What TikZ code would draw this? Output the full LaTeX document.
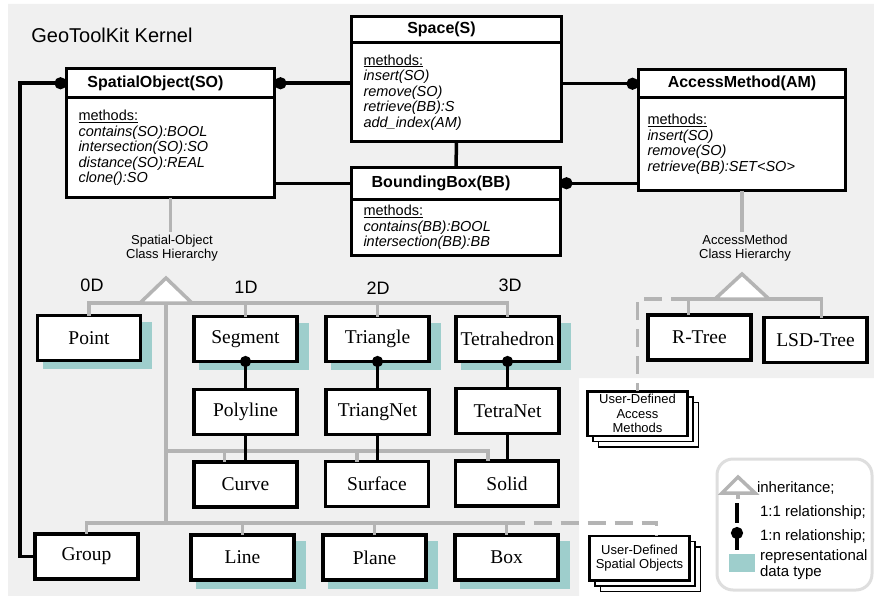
\documentclass[tikz,border=0pt]{standalone}
\usepackage{fontspec}
\setmainfont{Liberation Serif}
\newfontfamily\arialfont{Liberation Sans}
\usetikzlibrary{arrows.meta,shadows}

\definecolor{kernelbg}{RGB}{240,240,240}
\definecolor{inhgray}{RGB}{180,180,180}
\definecolor{reprteal}{RGB}{158,206,204}
\definecolor{legendgray}{RGB}{222,222,222}

\newcommand{\methodshead}{{\upshape\underline{methods:}}}

\tikzset{
  every node/.style={outer sep=0pt},
  cls/.style={draw, line width=3pt, fill=white, font=\arialfont\bfseries\fontsize{16}{18}\selectfont},
  leftish/.style={execute at begin node=\hspace*{-30pt}},
  clsbody/.style={draw, line width=3pt, fill=white, anchor=north, inner xsep=12pt, align=left,
    font=\arialfont\itshape\fontsize{14.5}{15.5}\selectfont},
  dtype/.style={draw, line width=3.5pt, fill=white, minimum width=103pt, minimum height=45pt,
    font=\fontsize{19.5}{21}\selectfont},
  repr/.style={dtype, general shadow={fill=reprteal, shadow xshift=8pt, shadow yshift=-7pt, shadow scale=1.06}},
  udbox/.style={draw, line width=2.5pt, fill=white, minimum width=100pt, minimum height=44.5pt,
    copy shadow={shadow xshift=11pt, shadow yshift=-11pt, line width=1.5pt},
    copy shadow={shadow xshift=5.5pt, shadow yshift=-5.5pt, line width=1.5pt},
    align=center, inner sep=1pt, font=\arialfont\fontsize{13}{14.5}\selectfont},
  inh/.style={draw=inhgray, line width=3.5pt},
  hasone/.style={line width=3.5pt},
  hasmany/.style={line width=3.5pt, {Circle[length=12pt]}-},
  partof/.style={line width=3.5pt, {Circle[length=11pt]}-, shorten <=-5.5pt},
  hier/.style={align=center, font=\arialfont\fontsize{13}{14}\selectfont},
  dim/.style={font=\arialfont\fontsize{18}{20}\selectfont},
  legtext/.style={anchor=west, align=left, inner xsep=2pt, font=\arialfont\fontsize{15}{16}\selectfont}
}

\begin{document}
\begin{tikzpicture}[x=1pt, y=-1pt]
\useasboundingbox (0,0) rectangle (874,596);

% kernel area
\fill[kernelbg] (8,4) -- (874,4) -- (874,378) -- (579,378) -- (579,596) -- (8,596) -- cycle;
\node[anchor=base west, font=\arialfont\fontsize{20}{24}\selectfont] (kernel) at (28,43) {GeoToolKit Kernel};

% classes
\node[cls, leftish, minimum width=208pt, minimum height=29.5pt] (SO) at (170.5,83.25) {SpatialObject(SO)};
\node[clsbody, text width=184pt, minimum height=99.5pt] (SObody) at (SO.south)
  {\methodshead\\contains(SO):BOOL\\intersection(SO):SO\\distance(SO):REAL\\clone():SO};

\node[cls, leftish, minimum width=210pt, minimum height=26.5pt] (Space) at (456.5,29.75) {Space(S)};
\node[clsbody, text width=186pt, minimum height=98.5pt] (Spacebody) at (Space.south)
  {\methodshead\\insert(SO)\\remove(SO)\\retrieve(BB):S\\add\_index(AM)};

\node[cls, leftish, minimum width=209pt, minimum height=31.5pt] (BB) at (456,183.25) {BoundingBox(BB)};
\node[clsbody, text width=185pt, minimum height=56.5pt] (BBbody) at (BB.south)
  {\methodshead\\contains(BB):BOOL\\intersection(BB):BB};

\node[cls, minimum width=207pt, minimum height=28.5pt] (AM) at (742,83.75) {AccessMethod(AM)};
\node[clsbody, inner xsep=9pt, text width=189pt, minimum height=92.5pt] (AMbody) at (AM.south)
  {\methodshead\\insert(SO)\\remove(SO)\\retrieve(BB):SET<SO>\\[4pt]};

% class relations
\draw[hasmany] (SO.east) -- (SO.east -| Spacebody.west);
\draw[hasmany] (AM.west) -- (AM.west -| Spacebody.east);
\draw[hasone] (Spacebody.south) -- (BB.north);
\draw[hasone] (BB.west -| SObody.east) -- (BB.west);
\draw[hasmany] (BB.east) -- (BB.east -| AMbody.west);

% spatial object types
\node[repr] (Point) at (89,338) {Point};
\node[repr] (Segment) at (245.5,339) {Segment};
\node[repr] (Triangle) at (377.5,339) {Triangle};
\node[repr] (Tetra) at (507.5,339) {Tetrahedron};
\node[dtype] (Polyline) at (245.5,412) {Polyline};
\node[dtype] (TriangNet) at (377.5,412) {TriangNet};
\node[dtype] (TetraNet) at (507.5,411) {TetraNet};
\node[dtype] (Curve) at (245.5,484.5) {Curve};
\node[dtype] (Surface) at (377,484) {Surface};
\node[dtype] (Solid) at (507,483.5) {Solid};
\node[dtype] (Group) at (86.5,556.5) {Group};
\node[repr] (Line) at (242.5,557.5) {Line};
\node[repr] (Plane) at (374.5,557.5) {Plane};
\node[repr] (Box) at (506.5,557.5) {Box};
\node[udbox] (UDSO) at (639.5,558) {User-Defined\\Spatial Objects};

\node[dim] (d0) at (92,285) {0D};
\node[dim] (d1) at (246,287) {1D};
\node[dim] (d2) at (378,288) {2D};
\node[dim] (d3) at (510,285) {3D};

% spatial object hierarchy
\node[hier] (sohier) at (172,248) {Spatial-Object\\Class Hierarchy};
\draw[inh] (SObody.south) -- (SObody.south |- sohier.north);
\coordinate (soinh) at (166,303);
\coordinate (bar2) at ([yshift=11]Curve.north);
\coordinate (bar3) at ([yshift=11]Group.north);
\coordinate (cvdrop) at ([xshift=-21]Curve.north);
\coordinate (sfdrop) at ([xshift=-20]Surface.north);
\coordinate (sldrop) at ([xshift=-19]Solid.north);
\draw[inh] (soinh) -- (soinh |- bar3);
\draw[inh] (Point.north) |- (soinh) -| (Tetra.north);
\draw[inh] (Segment.north) -- (Segment.north |- soinh);
\draw[inh] (Triangle.north) -- (Triangle.north |- soinh);
\draw[inh, fill=white] ([xshift=-26]soinh) -- ([yshift=25]soinh) -- ([xshift=26]soinh) -- cycle;
\draw[inh] (soinh |- bar2) -| (sldrop);
\draw[inh] (cvdrop |- bar2) -- (cvdrop);
\draw[inh] (sfdrop |- bar2) -- (sfdrop);
\draw[inh] (Group.north) |- (bar3) -| (Box.north);
\draw[inh] (Line.north) -- (Line.north |- bar3);
\draw[inh] (Plane.north) -- (Plane.north |- bar3);
\draw[inh, dash pattern=on 18pt off 9pt] (Box.north |- bar3) -| ([xshift=17]UDSO.north);

% part-of relations
\draw[partof] (Segment.south) -- (Polyline.north);
\draw[partof] (Triangle.south) -- (TriangNet.north);
\draw[partof] (Tetra.south) -- (TetraNet.north);
\draw[hasone] (Polyline.south) -- (Curve.north);
\draw[hasone] (TriangNet.south) -- (TriangNet.south |- Surface.north);
\draw[hasone] (TetraNet.south) -- (TetraNet.south |- Solid.north);
\draw[hasmany] (SO.west) -- ++(-46.5,0) |- (Group.west);

% access methods
\node[dtype] (RTree) at (699.5,337.5) {R-Tree};
\node[dtype] (LSD) at (815.5,340) {LSD-Tree};
\node[udbox] (UDAM) at (637.5,413.5) {User-Defined\\Access\\Methods};
\node[hier] (amhier) at (745,248) {AccessMethod\\Class Hierarchy};
\draw[inh] (AMbody.south) -- (AMbody.south |- amhier.north);
\coordinate (aminh) at (742,299);
\coordinate (rtdrop) at ([xshift=-11]RTree.north);
\coordinate (lsddrop) at ([xshift=6]LSD.north);
\draw[inh] (rtdrop) |- (aminh) -| (lsddrop);
\draw[inh, fill=white] ([xshift=-27]aminh) -- ([yshift=25]aminh) -- ([xshift=27]aminh) -- cycle;
\draw[inh, dash pattern=on 18pt off 9pt] (rtdrop |- aminh) -| (UDAM.north);

% legend
\draw[draw=legendgray, line width=3pt, rounded corners=16pt, fill=white] (717,459) rectangle (872,590);
\draw[inh, fill=white] (722,493) -- (738,477) -- (755,493) -- cycle;
\draw[inh] (738,493) -- (738,499);
\node[legtext] (leginh) at (755,488) {inheritance;};
\draw[line width=4pt] (737,503) -- (737,523);
\node[legtext] (legone) at (758,513) {1:1 relationship;};
\draw[line width=3.5pt, {Circle[length=12pt]}-] (737,527) -- (737,550);
\node[legtext] (legmany) at (758,537) {1:n relationship;};
\fill[reprteal] (729,554) rectangle (755,572);
\node[legtext] (legrepr) at (758,565) {representational\\data type};

\end{tikzpicture}
\end{document}
